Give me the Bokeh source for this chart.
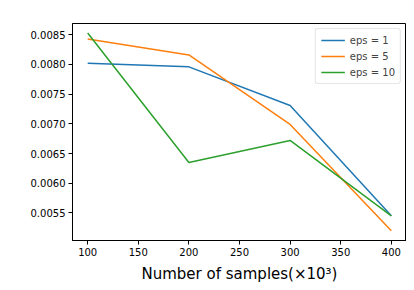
from bokeh.plotting import figure
from bokeh.models import Range1d, FixedTicker, PrintfTickFormatter, Legend, LegendItem
from bokeh.embed import file_html
from bokeh.resources import INLINE

samples = [100, 200, 300, 400]
eps1 = [0.00802, 0.00796, 0.00731, 0.00545]
eps5 = [0.00843, 0.00816, 0.00699, 0.00520]
eps10 = [0.00853, 0.00635, 0.00672, 0.00545]
labels = ["eps = 1", "eps = 5", "eps = 10"]
colors = ["#1f77b4", "#ff7f0e", "#2ca02c"]
x_ticks = [100, 150, 200, 250, 300, 350, 400]
y_ticks = [0.0055, 0.0060, 0.0065, 0.0070, 0.0075, 0.0080, 0.0085]

p = figure(width=407, height=285, output_backend="svg", toolbar_location=None,
           x_range=Range1d(85, 415), y_range=Range1d(0.005035, 0.00869),
           min_border_left=72, min_border_right=0, min_border_top=23, min_border_bottom=45)
p.frame_width = 334
p.frame_height = 217

renderers = []
for ys, c in zip([eps1, eps5, eps10], colors):
    r = p.line(samples, ys, line_color=c, line_width=1.5)
    renderers.append(r)

legend = Legend(items=[LegendItem(label=l, renderers=[r]) for l, r in zip(labels, renderers)],
                location="top_right")
legend.label_text_font = "DejaVu Sans"
legend.label_text_font_size = "10px"
legend.label_height = 12
legend.glyph_height = 12
legend.glyph_width = 24
legend.spacing = 4
legend.padding = 5
legend.margin = 5
legend.border_line_color = "#cccccc"
legend.border_line_width = 1
legend.border_radius = 3
legend.background_fill_alpha = 0.8
p.add_layout(legend)

p.xgrid.visible = False
p.ygrid.visible = False
p.outline_line_color = "black"
p.outline_line_width = 1
p.outline_line_alpha = 1
p.background_fill_color = "white"

p.xaxis.ticker = FixedTicker(ticks=x_ticks)
p.yaxis.ticker = FixedTicker(ticks=y_ticks)
p.yaxis.formatter = PrintfTickFormatter(format="%.4f")
for ax in (p.xaxis, p.yaxis):
    ax.major_tick_in = 0
    ax.major_tick_out = 4
    ax.minor_tick_line_color = None
    ax.axis_line_color = "black"
    ax.major_tick_line_color = "black"
    ax.major_label_text_font = "DejaVu Sans"
    ax.major_label_text_font_size = "10px"
    ax.major_label_text_color = "black"
    ax.major_label_standoff = 3
p.xaxis.axis_label = "Number of samples(×10³)"
p.xaxis.axis_label_text_font = "DejaVu Sans"
p.xaxis.axis_label_text_font_size = "15px"
p.xaxis.axis_label_text_font_style = "normal"
p.xaxis.axis_label_text_color = "black"
p.xaxis.axis_label_standoff = 6

open("out.html", "w").write(file_html(p, INLINE))
